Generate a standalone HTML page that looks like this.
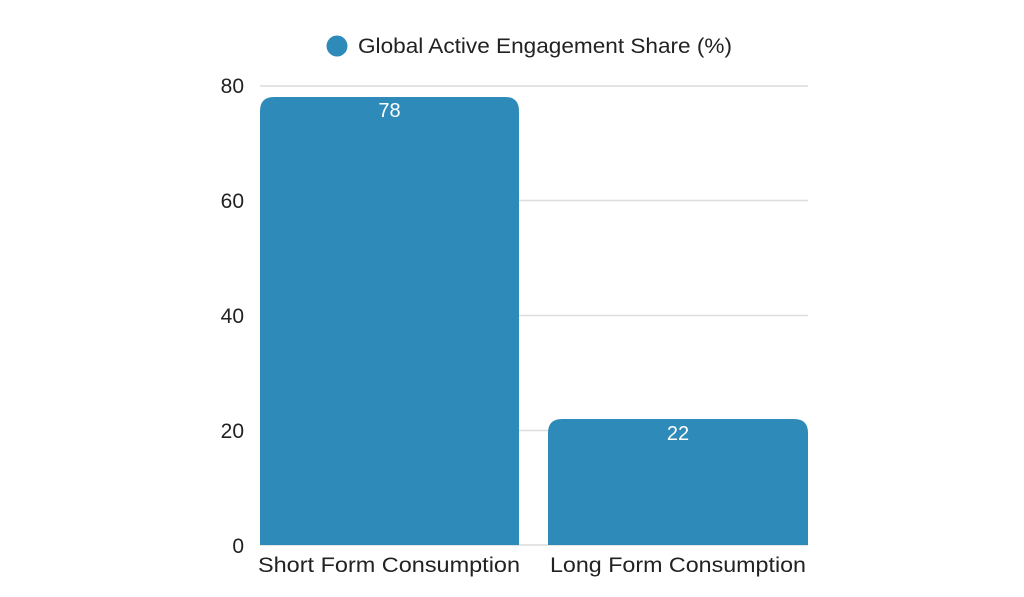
<!DOCTYPE html>
<html><head><meta charset="utf-8"><style>
html,body{margin:0;padding:0;background:#fff;width:1024px;height:597px;overflow:hidden}
svg{display:block}
text{font-family:"Liberation Sans",sans-serif}
</style></head><body>
<svg width="1024" height="597" viewBox="0 0 1024 597">
<g stroke="#dcdcdc" stroke-width="1.5">
<line x1="260" y1="86" x2="808" y2="86"/>
<line x1="260" y1="200.5" x2="808" y2="200.5"/>
<line x1="260" y1="315.5" x2="808" y2="315.5"/>
<line x1="260" y1="430.5" x2="808" y2="430.5"/>
<line x1="260" y1="545" x2="808" y2="545"/>
</g>
<g fill="#222" font-size="21" text-anchor="end">
<text x="244" y="93">80</text>
<text x="244" y="208">60</text>
<text x="244" y="323">40</text>
<text x="244" y="438">20</text>
<text x="244" y="553">0</text>
</g>
<path d="M260,545 V111 Q260,97 274,97 H505 Q519,97 519,111 V545 Z" fill="#2e8bb9"/>
<path d="M548,545 V433 Q548,419 562,419 H794 Q808,419 808,433 V545 Z" fill="#2e8bb9"/>
<text x="389.5" y="117" fill="#fff" font-size="20" text-anchor="middle">78</text>
<text x="678" y="440" fill="#fff" font-size="20" text-anchor="middle">22</text>
<g fill="#222" font-size="21">
<text x="258" y="572" textLength="262" lengthAdjust="spacingAndGlyphs">Short Form Consumption</text>
<text x="550" y="572" textLength="256" lengthAdjust="spacingAndGlyphs">Long Form Consumption</text>
</g>
<circle cx="337" cy="46" r="10.5" fill="#2e8bb9"/>
<text x="358" y="53" fill="#222" font-size="21" textLength="374" lengthAdjust="spacingAndGlyphs">Global Active Engagement Share (%)</text>
</svg>
</body></html>
